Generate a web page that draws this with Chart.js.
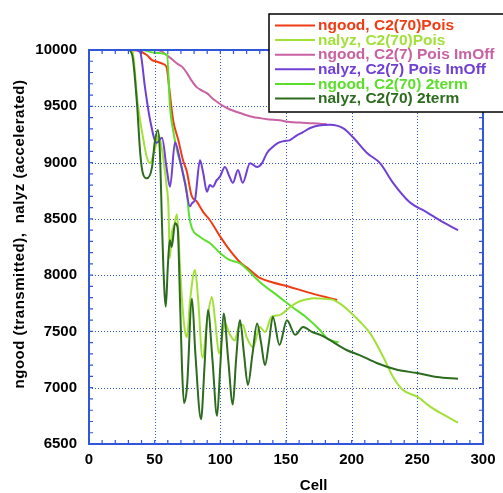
<!DOCTYPE html>
<html><head><meta charset="utf-8">
<script src="https://cdn.jsdelivr.net/npm/chart.js@4/dist/chart.umd.min.js"></script>
<style>html,body{margin:0;padding:0;background:#fff;overflow:hidden}</style>
</head><body>
<canvas id="c" width="503" height="493"></canvas>
<script>
// ---- data ----
const seriesLabels = ["ngood, C2(70)Pois","nalyz, C2(70)Pois","ngood, C2(7) Pois ImOff","nalyz, C2(7) Pois ImOff","ngood, C2(70) 2term","nalyz, C2(70) 2term"];
const xTickValues = [0,50,100,150,200,250,300];
const yTickValues = [6500,7000,7500,8000,8500,9000,9500,10000];
const xTitle = "Cell";
const yTitle = "ngood (transmitted),  nalyz (accelerated)";

const ngoodPoisX = [0,30,37,44,48,52,55.5,59,61,64,68,71.6,74.5,78,82,87,92,100,107,115,122,130,140,153,163,173.6,182,189];
const ngoodPoisY = [10000,10000,9995,9955,9910,9895,9880,9850,9670,9380,9200,9020,8920,8710,8655,8560,8490,8340,8225,8115,8050,7975,7935,7895,7860,7825,7800,7780];

const nalyzPoisX = [0,30,33,37,41,44,46.5,50,53,55,57,59,60.5,61.5,63,65,67,69.3,71,73,74.6,77,80.7,83,86.5,90,93.6,96,99,103.5,107,111,114,117,120,125,130,134,139,145,153,159,166,171,180,186,192,199,206,214,224,231.5,239,250,260,270,281];
const nalyzPoisY = [10000,10000,9990,9530,9230,9050,8995,9110,9250,9150,9000,8800,8600,8150,8370,8450,8540,8075,7750,7510,7450,7780,8045,7800,7265,7600,7805,7600,7305,7575,7480,7420,7540,7560,7450,7360,7540,7495,7630,7645,7715,7760,7785,7795,7790,7780,7740,7670,7590,7485,7275,7095,6980,6920,6830,6760,6690];

const ngoodImOffX = [0,50,55,59,63,67,71,74.6,78,82,86,90,94,97.5,101,105,110,115,120,125,130,135.5,145,153,160,168,176,181];
const ngoodImOffY = [10000,10000,9990,9955,9920,9880,9850,9795,9730,9670,9640,9615,9570,9540,9510,9485,9460,9440,9420,9405,9395,9385,9375,9360,9355,9350,9345,9340];

const nalyzImOffX = [0,36,39,42.6,46.5,51.5,55.6,59,61.7,65.5,69.3,73,76.9,78.5,80.7,84.5,87,89.8,92,94.4,97,99.7,103.5,107,109.6,113.4,117,122.6,127.9,131.7,135.5,139,144,148,153,158,163,168,175,183.5,193.4,201,211.7,221.6,231.5,244,257,269.5,281];
const nalyzImOffY = [10000,10000,9980,9670,9380,9175,9220,8960,8785,9180,9020,8820,8610,8640,8670,9020,8905,8740,8800,8785,8840,8875,8960,8875,8820,8935,8820,8995,8960,8995,9085,9130,9175,9190,9200,9240,9270,9305,9330,9335,9305,9225,9085,8995,8820,8650,8560,8470,8400];

const ngood2termX = [0,40,50,59.4,61.7,64,67,71,74.6,76,78,84.5,92,100,107,115,130,145,155,166,176,181,190];
const ngood2termY = [10000,10000,9975,9955,9490,9290,9110,8935,8730,8550,8430,8340,8285,8195,8135,8105,7940,7805,7715,7620,7510,7440,7400];

const nalyz2termX = [0,30,33,36.5,39,41,44,48,50,52.5,54,55.5,56.6,58.5,60,61.5,63,65.5,67.5,69.3,70.8,72.3,74.6,78.4,81,85.3,88,90.6,94,97.5,100,102.5,106,109.5,112,115,118,121,124.5,128,131,134,137,140,145,150.7,157,163,170,176,181,196,206,219,234.5,250,265,281];
const nalyz2termY = [10000,10000,9950,9530,9085,8905,8860,8960,9175,9290,9085,8490,8075,7720,8075,8310,8250,8460,8420,7780,7185,6865,7005,7790,7300,6720,7200,7690,7250,6750,7200,7660,7250,6850,7250,7600,7300,7025,7300,7570,7400,7200,7400,7630,7380,7600,7470,7540,7495,7470,7440,7335,7290,7220,7160,7130,7095,7080];

// ---- styles ----
const colors = ["#f03c14","#a2e03a","#c862a2","#7040d4","#5cdf2c","#2d6b1f"];
const drawOrder = [5,2,4,1,3,0];
const xs = [ngoodPoisX,nalyzPoisX,ngoodImOffX,nalyzImOffX,ngood2termX,nalyz2termX];
const ys = [ngoodPoisY,nalyzPoisY,ngoodImOffY,nalyzImOffY,ngood2termY,nalyz2termY];
const BLUE = "#2f56dc";
const FONT = "'Liberation Sans', Arial, Helvetica, sans-serif";

const datasets = seriesLabels.map((lab,i)=>({
  label: lab,
  data: xs[i].map((x,k)=>({x:x,y:ys[i][k]})),
  borderColor: colors[i],
  backgroundColor: colors[i],
  borderWidth: 2,
  pointRadius: 0,
  fill: false,
  cubicInterpolationMode: 'monotone',
  order: drawOrder[i]
}));

const framePlugin = {
  id: 'frame',
  beforeDatasetsDraw(chart){
    const {ctx, chartArea:a, scales:{x, y}} = chart;
    ctx.save();
    ctx.strokeStyle = BLUE; ctx.lineWidth = 1; ctx.setLineDash([1,2]);
    xTickValues.forEach(v=>{ const px = Math.round(x.getPixelForValue(v))+0.5; if (px> a.left+2 && px < a.right-2){ ctx.beginPath(); ctx.moveTo(px,a.top); ctx.lineTo(px,a.bottom); ctx.stroke(); }});
    yTickValues.forEach(v=>{ const py = Math.round(y.getPixelForValue(v))+0.5; if (py> a.top+2 && py < a.bottom-2){ ctx.beginPath(); ctx.moveTo(a.left,py); ctx.lineTo(a.right,py); ctx.stroke(); }});
    ctx.restore();
  },
  afterDatasetsDraw(chart){
    const {ctx, chartArea:a, scales:{x, y}} = chart;
    ctx.save();
    ctx.strokeStyle = BLUE; ctx.lineWidth = 1.2; ctx.setLineDash([]);
    const L = 4;
    for (let v=0; v<=300; v+=10){ const px = x.getPixelForValue(v);
      ctx.beginPath(); ctx.moveTo(px,a.bottom); ctx.lineTo(px,a.bottom-L); ctx.moveTo(px,a.top); ctx.lineTo(px,a.top+L); ctx.stroke(); }
    for (let v=6500; v<=10000; v+=100){ const py = y.getPixelForValue(v);
      ctx.beginPath(); ctx.moveTo(a.left,py); ctx.lineTo(a.left+L,py); ctx.moveTo(a.right,py); ctx.lineTo(a.right-L,py); ctx.stroke(); }
    ctx.lineWidth = 2;
    ctx.strokeRect(a.left, a.top, a.right-a.left, a.bottom-a.top);
    ctx.restore();
  },
  afterDraw(chart){
    const {ctx, chartArea:a} = chart;
    ctx.save();
    ctx.fillStyle = '#000';
    ctx.font = "bold 15px " + FONT;
    ctx.textAlign = 'center'; ctx.textBaseline = 'middle';
    ctx.fillText(xTitle, a.left + (a.right-a.left)*0.57, 486);
    ctx.save();
    ctx.translate(20, 234);
    ctx.rotate(-Math.PI/2);
    ctx.font = "bold 15px " + FONT;
    if ('letterSpacing' in ctx) ctx.letterSpacing = '0.5px';
    ctx.fillText(yTitle, 0, 0);
    ctx.restore();
    // legend
    const bx = 269, by = 14, bw = 240, bh = 98;
    ctx.fillStyle = '#fff';
    ctx.fillRect(bx, by, bw, bh);
    ctx.strokeStyle = '#000'; ctx.lineWidth = 1.5;
    ctx.strokeRect(bx, by, bw, bh);
    ctx.font = "bold 15.5px " + FONT;
    ctx.textAlign = 'left'; ctx.textBaseline = 'middle';
    chart.data.datasets.forEach((ds,i)=>{
      const cy = 25.5 + i*14.6;
      ctx.strokeStyle = ds.borderColor; ctx.lineWidth = 2;
      ctx.beginPath(); ctx.moveTo(275, cy); ctx.lineTo(315, cy); ctx.stroke();
      ctx.fillStyle = ds.borderColor;
      ctx.fillText(ds.label, 318, cy+0.5);
    });
    ctx.restore();
  }
};

new Chart(document.getElementById('c'), {
  type: 'line',
  data: { datasets },
  options: {
    responsive: false,
    animation: false,
    devicePixelRatio: 1,
    layout: { padding: { top: 50, right: 20, left: 0, bottom: 0 } },
    plugins: { legend: { display: false }, tooltip: { enabled: false } },
    scales: {
      x: {
        type: 'linear', min: 0, max: 300,
        afterFit(s){ s.height = 49; },
        afterBuildTicks(s){ s.ticks = xTickValues.map(v=>({value:v})); },
        ticks: { font: { family: FONT, size: 15, weight: 'bold' }, color: '#000', padding: 7, maxRotation: 0, autoSkip: false, callback: v => String(v) },
        grid: { display: false, drawTicks: false },
        border: { display: false }
      },
      y: {
        type: 'linear', min: 6500, max: 10000,
        afterFit(s){ s.width = 89; },
        afterBuildTicks(s){ s.ticks = yTickValues.map(v=>({value:v})); },
        ticks: { font: { family: FONT, size: 15, weight: 'bold' }, color: '#000', padding: 12, autoSkip: false, callback: v => String(v) },
        grid: { display: false, drawTicks: false },
        border: { display: false }
      }
    }
  },
  plugins: [framePlugin]
});
</script>
</body></html>
